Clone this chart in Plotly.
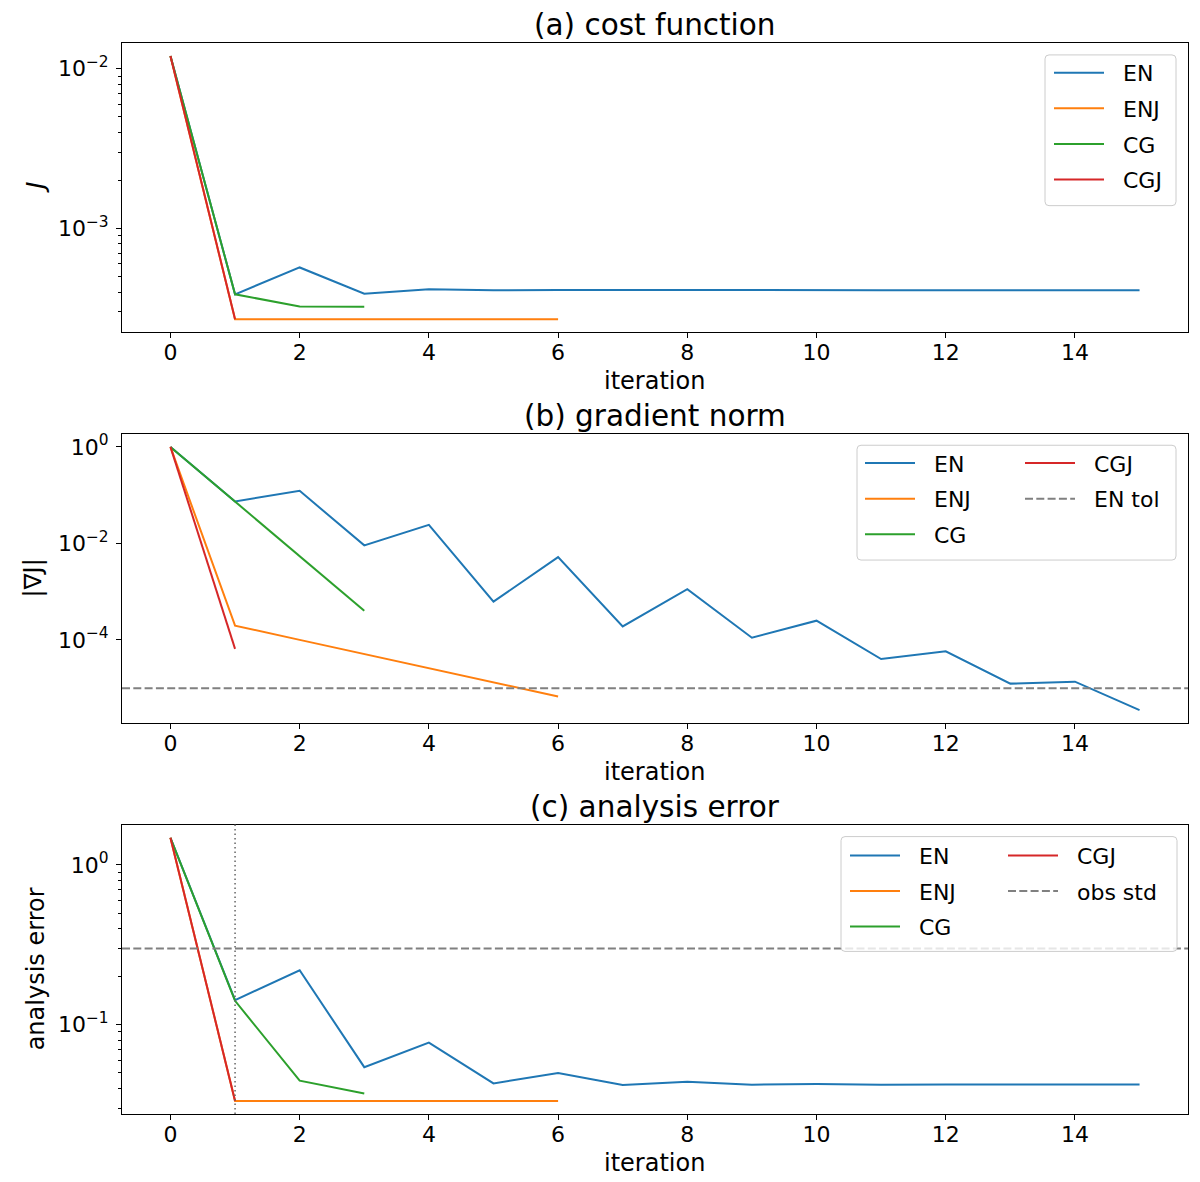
import numpy as np
import plotly.graph_objects as go

# ---------------- data ----------------
it_EN = list(range(16))
it_ENJ = list(range(7))
it_CG = list(range(4))
it_CGJ = list(range(2))

# (a) cost function J
J_EN = [0.0120, 3.87e-4, 5.70e-4, 3.90e-4, 4.16e-4, 4.10e-4, 4.12e-4, 4.11e-4,
        4.12e-4, 4.11e-4, 4.12e-4, 4.11e-4, 4.11e-4, 4.11e-4, 4.11e-4, 4.11e-4]
J_ENJ = [0.0120, 2.70e-4, 2.70e-4, 2.70e-4, 2.70e-4, 2.70e-4, 2.70e-4]
J_CG = [0.0120, 3.87e-4, 3.25e-4, 3.24e-4]
J_CGJ = [0.0120, 2.70e-4]

# (b) gradient norm |grad J|
G_EN = [1.0, 0.074, 0.123, 0.0091, 0.0243, 6.2e-4, 5.2e-3, 1.9e-4, 1.13e-3,
        1.11e-4, 2.5e-4, 4.0e-5, 5.8e-5, 1.24e-5, 1.36e-5, 3.5e-6]
G_ENJ = [1.0, 1.97e-4, 1.0e-4, 5.1e-5, 2.6e-5, 1.3e-5, 6.7e-6]
G_CG = [1.0, 0.074, 5.6e-3, 4.0e-4]
G_CGJ = [1.0, 6.5e-5]
EN_tol = 1e-5

# (c) analysis error
E_EN = [1.48, 0.1426, 0.219, 0.0542, 0.0773, 0.0429, 0.0498, 0.0419, 0.0439,
        0.0421, 0.0425, 0.0421, 0.0422, 0.0421, 0.0422, 0.0422]
E_ENJ = [1.48, 0.0333, 0.0333, 0.0333, 0.0333, 0.0333, 0.0333]
E_CG = [1.48, 0.141, 0.0446, 0.0371]
E_CGJ = [1.48, 0.0333]
obs_std = 0.3
marker_iter = 1

methods = ["EN", "ENJ", "CG", "CGJ"]
iters = [it_EN, it_ENJ, it_CG, it_CGJ]
colors = ["#1f77b4", "#ff7f0e", "#2ca02c", "#d62728"]

titles = ["(a) cost function", "(b) gradient norm", "(c) analysis error"]
ylabels = ["<i>J</i>", "|∇J|", "analysis error"]
xlabel = "iteration"

# ---------------- layout helpers ----------------
W, H = 1200, 1182
FONT = "DejaVu Sans"
NB = "\u00a0\u00a0"  # gap between legend line and label


def px(x):
    return x / W


def py(y):
    return 1 - y / H


X0, X1 = 122, 1188
panel_px = [(41, 331), (432.5, 722.5), (824, 1114)]

fig = go.Figure()

series = [
    [J_EN, J_ENJ, J_CG, J_CGJ],
    [G_EN, G_ENJ, G_CG, G_CGJ],
    [E_EN, E_ENJ, E_CG, E_CGJ],
]
legend_map = [
    ["legend", "legend", "legend", "legend"],
    ["legend2", "legend2", "legend2", "legend3"],
    ["legend4", "legend4", "legend4", "legend5"],
]

for p in range(3):
    xa = "x" if p == 0 else f"x{p + 1}"
    ya = "y" if p == 0 else f"y{p + 1}"
    for k in range(4):
        fig.add_trace(go.Scatter(
            x=iters[k], y=series[p][k], mode="lines", name=NB + methods[k],
            line=dict(color=colors[k], width=2),
            xaxis=xa, yaxis=ya, legend=legend_map[p][k],
            legendgroup=f"p{p}{k}", showlegend=True, hoverinfo="skip"))

# legend-only entries for reference lines
DASH = "8px,3.3px"
fig.add_trace(go.Scatter(x=[None], y=[None], mode="lines", name=NB + "EN tol",
                         line=dict(color="gray", width=2, dash=DASH),
                         xaxis="x2", yaxis="y2", legend="legend3",
                         legendgroup="tol"))
fig.add_trace(go.Scatter(x=[None], y=[None], mode="lines", name=NB + "obs std",
                         line=dict(color="gray", width=2, dash=DASH),
                         xaxis="x3", yaxis="y3", legend="legend5",
                         legendgroup="obs"))

# reference lines
fig.add_shape(type="line", xref="x2 domain", x0=0, x1=1, yref="y2",
              y0=EN_tol, y1=EN_tol, line=dict(color="gray", width=2, dash=DASH),
              layer="above")
fig.add_shape(type="line", xref="x3 domain", x0=0, x1=1, yref="y3",
              y0=obs_std, y1=obs_std, line=dict(color="gray", width=2, dash=DASH),
              layer="above")
fig.add_shape(type="line", yref="y3 domain", y0=0, y1=1, xref="x3",
              x0=marker_iter, x1=marker_iter,
              line=dict(color="#666666", width=1.5, dash="1.5px,3px"), layer="above")

# ---------------- axes ----------------
all_x = [v for it in iters for v in it]
xmin, xmax = min(all_x), max(all_x)
xpad = 0.05 * (xmax - xmin)

minor_vals = [m * 10.0 ** e for e in range(-7, 2) for m in range(2, 10)]
major_steps = [1, 2, 1]
show_minor = [True, False, True]


def sup(e):
    s = str(e).replace("-", "−")
    return f"10<sup>{s}</sup>"


axis_common = dict(showline=True, mirror=True, linecolor="black", linewidth=1,
                   ticks="outside", ticklen=5, tickwidth=1, tickcolor="black",
                   showgrid=False, zeroline=False,
                   tickfont=dict(family=FONT, size=22, color="black"))

layout = {}
for p in range(3):
    top, bot = panel_px[p]
    xkey = "xaxis" if p == 0 else f"xaxis{p + 1}"
    ykey = "yaxis" if p == 0 else f"yaxis{p + 1}"
    ya = "y" if p == 0 else f"y{p + 1}"
    xa = "x" if p == 0 else f"x{p + 1}"
    vals = [v for s in series[p] for v in s]
    lo, hi = np.log10(min(vals)), np.log10(max(vals))
    pad = 0.05 * (hi - lo)
    rlo, rhi = lo - pad, hi + pad
    exps = [e for e in range(int(np.floor(rlo)), int(np.ceil(rhi)) + 1)
            if rlo <= e <= rhi and e % major_steps[p] == 0]
    layout[xkey] = dict(axis_common, domain=[px(X0), px(X1)], anchor=ya,
                        range=[xmin - xpad, xmax + xpad], tick0=0, dtick=2,
                        ticklabelstandoff=-5)
    ycfg = dict(axis_common, domain=[py(bot), py(top)], anchor=xa, type="log",
                range=[rlo, rhi], tickmode="array",
                tickvals=[10.0 ** e for e in exps],
                ticktext=[sup(e) for e in exps], ticklabelstandoff=3)
    if show_minor[p]:
        ycfg["minor"] = dict(tickmode="array", tickvals=minor_vals, ticks="outside",
                             ticklen=3, tickwidth=0.8, tickcolor="black",
                             showgrid=False)
    layout[ykey] = ycfg

# ---------------- text (titles, labels) ----------------
ylabel_x = [36, 33, 36]
ann = []
for p in range(3):
    top, bot = panel_px[p]
    ann.append(dict(text=titles[p], xref="paper", yref="paper",
                    x=px((X0 + X1) / 2), y=py(top - 18), xanchor="center",
                    yanchor="middle", showarrow=False,
                    font=dict(family=FONT, size=29.5, color="black")))
    ann.append(dict(text=xlabel, xref="paper", yref="paper",
                    x=px((X0 + X1) / 2), y=py(bot + 49), xanchor="center",
                    yanchor="middle", showarrow=False,
                    font=dict(family=FONT, size=24, color="black")))
    ann.append(dict(text=ylabels[p], xref="paper", yref="paper",
                    x=px(ylabel_x[p]), y=py((top + bot) / 2), xanchor="center",
                    yanchor="middle", showarrow=False, textangle=-90,
                    font=dict(family=FONT, size=24, color="black")))

# ---------------- legends ----------------
def rounded_rect(x0, y0, x1, y1, r=4):
    a, b, c, d = px(x0), py(y0), px(x1), py(y1)
    rx, ry = r / W, r / H
    return (f"M{a + rx},{b} L{c - rx},{b} Q{c},{b} {c},{b - ry} "
            f"L{c},{d + ry} Q{c},{d} {c - rx},{d} L{a + rx},{d} "
            f"Q{a},{d} {a},{d + ry} L{a},{b - ry} Q{a},{b} {a + rx},{b} Z")


boxes = [(1045, 53, 1176, 204), (857, 444, 1176, 559), (841, 836, 1177, 951)]
for bx in boxes:
    fig.add_shape(type="path", path=rounded_rect(*bx), xref="paper",
                  yref="paper", fillcolor="rgba(255,255,255,0.8)",
                  line=dict(color="#cccccc", width=1), layer="above")

leg_common = dict(bgcolor="rgba(0,0,0,0)", borderwidth=0, xanchor="left",
                  yanchor="top", font=dict(family=FONT, size=22, color="black"),
                  itemwidth=50, tracegroupgap=4, traceorder="grouped",
                  itemclick=False, itemdoubleclick=False)
legend_pos = {
    "legend": (1049, 50),
    "legend2": (860, 441),
    "legend3": (1020, 441),
    "legend4": (845, 834),
    "legend5": (1003, 834),
}
for key, (lx, ly) in legend_pos.items():
    layout[key] = dict(leg_common, x=px(lx), y=py(ly))

fig.update_layout(**layout)
fig.update_layout(
    width=W, height=H, margin=dict(l=0, r=0, t=0, b=0),
    paper_bgcolor="white", plot_bgcolor="white",
    font=dict(family=FONT, size=20, color="black"),
    annotations=ann, showlegend=True,
)

fig.write_html("out.html", config={"displayModeBar": False},
               post_script="document.body.style.margin='0px';"
                           "document.body.style.padding='0px';")
